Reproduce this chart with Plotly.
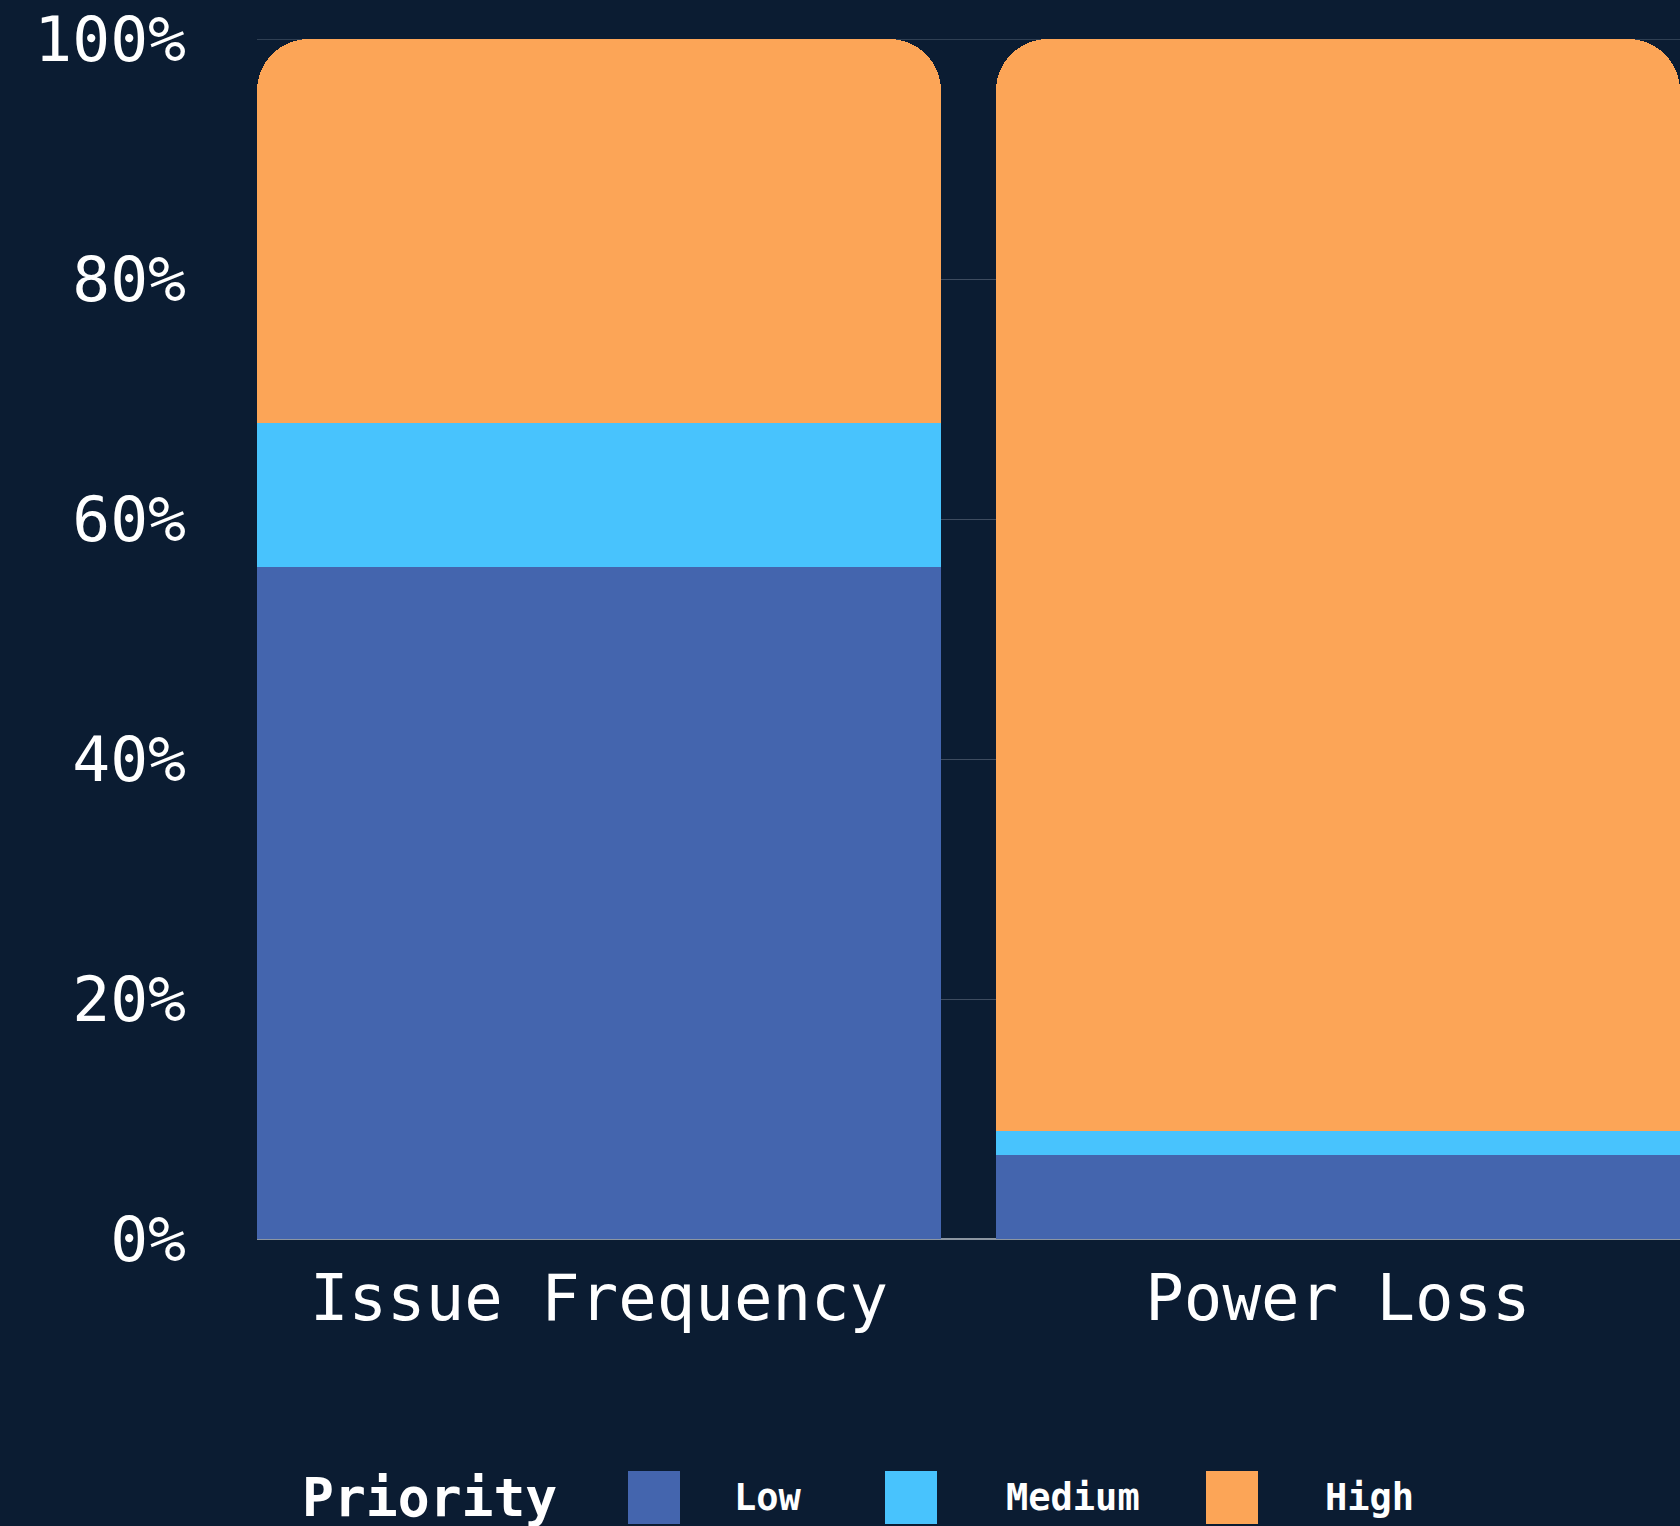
import plotly.graph_objects as go

# data
categories = ['Issue Frequency', 'Power Loss']
priorities = ['Low', 'Medium', 'High']
low = [56, 7]
medium = [12, 2]
high = [32, 91]
tick_vals = [0, 20, 40, 60, 80, 100]
tick_text = ['0%', '20%', '40%', '60%', '80%', '100%']
colors = {'Low': '#4465ae', 'Medium': '#48c3fd', 'High': '#fca557'}

W, H = 1680, 1526
ML, MR, MT, MB = 257, 0, 39, 287
PW, PH = W - ML - MR, H - MT - MB
bg = '#0b1c32'
grid = '#3d4b5f'
mono = 'DejaVu Sans Mono, monospace'

def px_x(px):
    return (px - ML) / PW

def px_y(py):
    return (H - MB - py) / PH

fig = go.Figure()
for name, vals in zip(priorities, [low, medium, high]):
    fig.add_trace(go.Bar(
        x=categories, y=vals, name=name,
        marker=dict(color=colors[name], line=dict(width=0)),
        showlegend=False,
        hovertemplate='%{x}<br>' + name + ': %{y}%<extra></extra>',
    ))

gap = 0.0743
fig.update_layout(
    width=W, height=H,
    barmode='stack', bargap=gap, barcornerradius=52,
    paper_bgcolor=bg, plot_bgcolor=bg,
    margin=dict(l=ML, r=MR, t=MT, b=MB, pad=0),
    font=dict(family=mono, color='white'),
    xaxis=dict(
        range=[-0.5 + gap / 2, 1.5 - gap / 2],
        showgrid=False, showline=False, zeroline=False,
        tickfont=dict(size=64, family=mono, color='white'),
        ticklabelstandoff=16,
    ),
    yaxis=dict(
        range=[0, 100], tickmode='array', tickvals=tick_vals, ticktext=tick_text,
        showgrid=True, gridcolor=grid, gridwidth=1,
        zeroline=True, zerolinecolor='#8c96a2', zerolinewidth=1.5,
        showline=False,
        tickfont=dict(size=63, family=mono, color='white'),
        ticklabelstandoff=70,
    ),
)

# top gridline (plotly drops the one at the range edge)
fig.add_shape(
    type='line', xref='paper', yref='y', x0=0, x1=1,
    y0=tick_vals[-1], y1=tick_vals[-1],
    line=dict(color=grid, width=1.5), layer='below',
)

# hand-drawn legend (large swatches)
fig.add_annotation(
    text='<b>Priority</b>', x=px_x(300), y=px_y(1497), xref='paper', yref='paper',
    xanchor='left', yanchor='middle', showarrow=False,
    font=dict(size=53, family=mono, color='white'),
)
swatch_x = [628, 885, 1206]
text_x = [732, 1004, 1323]
for name, sx, tx in zip(priorities, swatch_x, text_x):
    fig.add_shape(
        type='rect', xref='paper', yref='paper',
        x0=px_x(sx), x1=px_x(sx + 52), y0=px_y(1471), y1=px_y(1524),
        fillcolor=colors[name], line=dict(width=0),
    )
    fig.add_annotation(
        text='<b>' + name + '</b>', x=px_x(tx), y=px_y(1497), xref='paper', yref='paper',
        xanchor='left', yanchor='middle', showarrow=False,
        font=dict(size=37, family=mono, color='white'),
    )

fig.write_html(
    'out.html',
    config={'displayModeBar': False},
    post_script="document.body.style.margin='0';document.body.style.overflow='hidden';"
                "document.body.style.background='#0b1c32';",
)
